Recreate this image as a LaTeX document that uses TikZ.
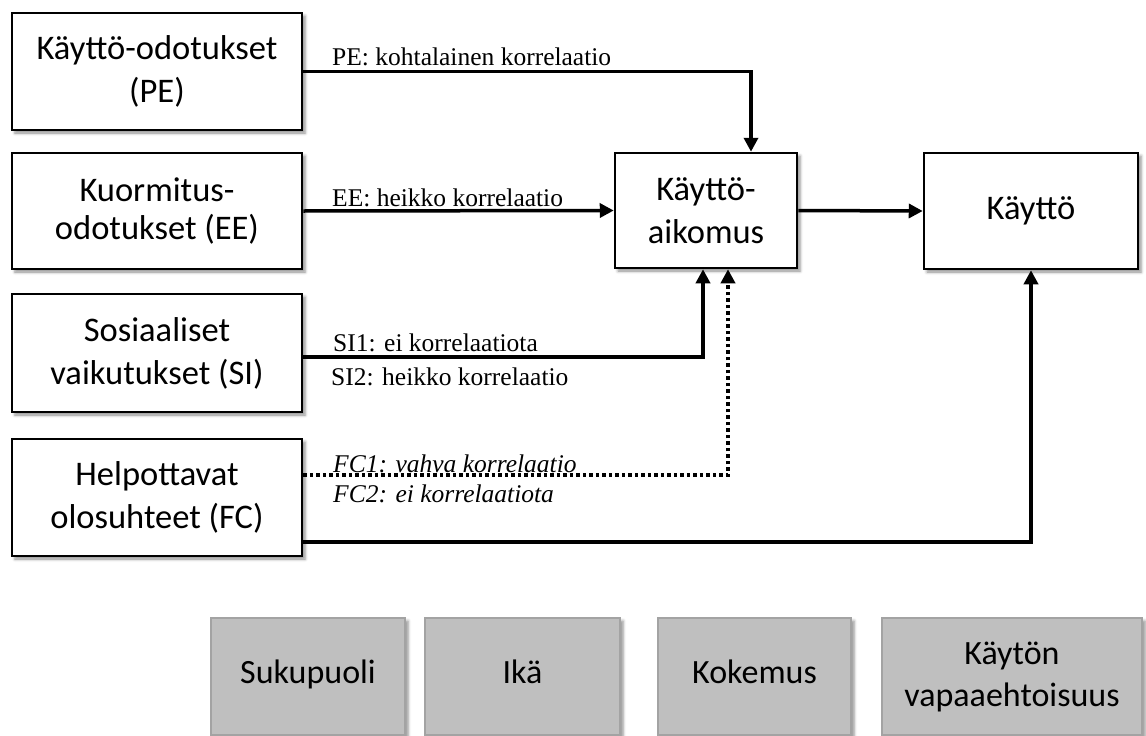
\documentclass[tikz,border=0pt]{standalone}
\usepackage{fontspec}
\setmainfont{Carlito}
\newfontfamily\lblfont{Liberation Serif}
\usetikzlibrary{arrows.meta,shadows.blur}
\definecolor{modfill}{HTML}{BFBFBF}
\definecolor{modline}{HTML}{A3A3A3}

\begin{document}
\begin{tikzpicture}[x=1pt,y=-1pt,
  softshadow/.style={blur shadow={shadow xshift=3pt,shadow yshift=-3pt,
      shadow blur radius=3pt,shadow opacity=45}},
  box/.style={draw=black,line width=2.5pt,fill=white,align=center,inner sep=0pt,
      font=\fontsize{34.5}{43}\selectfont,softshadow},
  modbox/.style={draw=modline,line width=1.5pt,fill=modfill,align=center,inner sep=0pt,
      minimum height=117pt,font=\fontsize{34}{42}\selectfont,softshadow},
  oneline/.style={text height=22pt,text depth=8pt},
  link/.style={line width=3.5pt,-{Triangle[length=14pt,width=14pt]}},
  dotlink/.style={link,dash pattern=on 3.5pt off 3pt},
  lbl/.style={anchor=base west,inner sep=0pt,font=\lblfont\fontsize{25.5}{28}\selectfont},
  lbli/.style={lbl,font=\lblfont\itshape\fontsize{25.5}{28}\selectfont}
]
\useasboundingbox (0,0) rectangle (1146,736);

% determinants
\node[box,minimum width=290pt,minimum height=117pt] (pe) at (157,71.5)
  {Käyttö-odotukset\\(PE)};
\node[box,minimum width=290pt,minimum height=116pt,
  font=\fontsize{34.5}{38}\selectfont] (ee) at (157,211)
  {Kuormitus-\\odotukset (EE)};
\node[box,minimum width=290pt,minimum height=118pt] (si) at (157,353)
  {Sosiaaliset\\vaikutukset (SI)};
\node[box,minimum width=290pt,minimum height=117pt] (fc) at (157,497.5)
  {Helpottavat\\olosuhteet (FC)};

% intention and use
\node[box,minimum width=182pt,minimum height=115pt] (ka) at (706,210.5)
  {Käyttö-\\aikomus};
\node[box,minimum width=214pt,minimum height=116pt] (use) at (1031,211)
  {Käyttö};

% moderators
\node[modbox,oneline,minimum width=194pt] (sex) at (308,676.5) {Sukupuoli};
\node[modbox,oneline,minimum width=195pt] (age) at (522.5,676.5) {Ikä};
\node[modbox,oneline,minimum width=193pt] (exp) at (754.5,676.5) {Kokemus};
\node[modbox,minimum width=260pt] (vol) at (1012,676.5) {Käytön\\vapaaehtoisuus};

% connectors
\draw[link] (pe.east) -| ([xshift=45pt]ka.north);
\draw[link] (ee.east) -- (ka.west);
\draw[link] ([yshift=-4pt]si.east) -| ([xshift=-3pt]ka.south);
\draw[dotlink] ([yshift=22.5pt]fc.east) -| ([xshift=22pt]ka.south);
\draw[link] ([yshift=-44.5pt]fc.east) -| (use.south);
\draw[link] (ka.east) -- (use.west);

% correlation labels
\node[lbl] (lpe) at (332,65) {PE: kohtalainen korrelaatio};
\node[lbl] (lee) at (332,206) {EE: heikko korrelaatio};
\node[lbl] (lsi1) at (333,351) {SI1: ei korrelaatiota};
\node[lbl] (lsi2) at (331,385) {SI2: heikko korrelaatio};
\node[lbli] (lfc1) at (333,472) {FC1: vahva korrelaatio};
\node[lbli] (lfc2) at (333,502) {FC2: ei korrelaatiota};
\end{tikzpicture}
\end{document}
